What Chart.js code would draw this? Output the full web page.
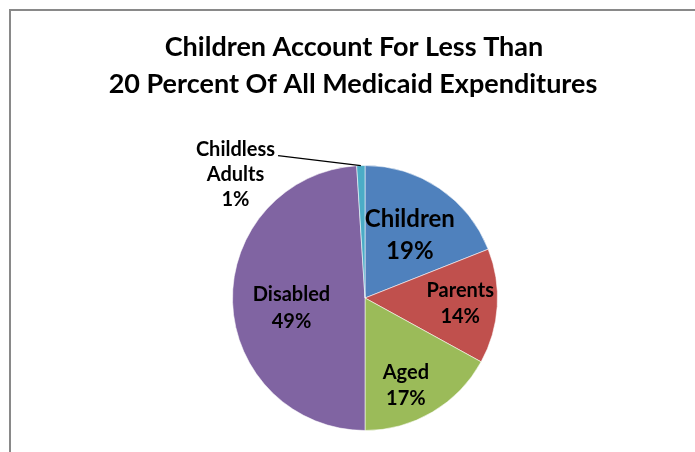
<!DOCTYPE html>
<html>
<head>
<meta charset="utf-8">
<title>Medicaid Expenditures</title>
<script src="https://cdn.jsdelivr.net/npm/chart.js@4.4.1/dist/chart.umd.min.js"></script>
<style>
  html, body { margin: 0; padding: 0; background: #fff; }
  #wrap { width: 695px; height: 452px; }
</style>
</head>
<body>
<div id="wrap"><canvas id="medicaid-pie" width="695" height="452"></canvas></div>
<script>
// share of Medicaid spending by eligibility group
const groups = ['Children', 'Parents', 'Aged', 'Disabled', 'Childless Adults'];
const shares = [19, 14, 17, 49, 1];
const sliceColors = ['#4F81BD', '#C0504D', '#9BBB59', '#8064A2', '#4BACC6'];
const titleLines = ['Children Account For Less Than', '20 Percent Of All Medicaid Expenditures'];

const FONT = 'Lato, "Open Sans", sans-serif';

// where each label sits: fraction of radius, angle nudge (deg), font size, outside?
const labelPlace = [
  { r: 0.58, shift: 1.5, size: 24, lh: 32, lines: ['Children'] },
  { r: 0.72, shift: 0, size: 20, lh: 26, lines: ['Parents'] },
  { r: 0.73, shift: 5.6, size: 20, lh: 26, lines: ['Aged'] },
  { r: 0.56, shift: -6, size: 20, lh: 27, lines: ['Disabled'] },
  { r: 1.35, shift: -44.6, size: 20, lh: 25, lines: ['Childless', 'Adults'], outside: true }
];

// grey frame, title
const framePlugin = {
  id: 'frame',
  beforeDraw(chart) {
    const ctx = chart.ctx;
    ctx.save();
    ctx.strokeStyle = '#898989';
    ctx.lineWidth = 2;
    ctx.strokeRect(10, 10, 800, 800);
    ctx.fillStyle = '#000';
    ctx.font = 'bold 27px ' + FONT;
    ctx.textAlign = 'center';
    ctx.textBaseline = 'middle';
    ctx.fillText(titleLines[0], 354, 47);
    ctx.fillText(titleLines[1], 353, 84);
    ctx.restore();
  }
};

// category name + percent on each slice
const sliceLabels = {
  id: 'sliceLabels',
  afterDatasetsDraw(chart) {
    const ctx = chart.ctx;
    const meta = chart.getDatasetMeta(0);
    const total = shares.reduce((a, b) => a + b, 0);
    ctx.save();
    ctx.fillStyle = '#000';
    ctx.textAlign = 'center';
    ctx.textBaseline = 'middle';
    meta.data.forEach((arc, i) => {
      const p = labelPlace[i];
      const { x, y, startAngle, endAngle, outerRadius } = arc.getProps(['x', 'y', 'startAngle', 'endAngle', 'outerRadius'], true);
      const mid = (startAngle + endAngle) / 2;
      const a = mid + p.shift * Math.PI / 180;
      const cx = x + Math.cos(a) * outerRadius * p.r;
      const cy = y + Math.sin(a) * outerRadius * p.r;
      const pct = Math.round(shares[i] / total * 100) + '%';
      const lines = p.lines.concat([pct]);
      ctx.font = 'bold ' + p.size + 'px ' + FONT;
      const top = cy - (lines.length - 1) * p.lh / 2;
      lines.forEach((t, k) => ctx.fillText(t, cx, top + k * p.lh));

      if (p.outside) {
        // leader line from the first text line to the slice edge
        const w = ctx.measureText(lines[0]).width;
        ctx.strokeStyle = '#000';
        ctx.lineWidth = 1.3;
        ctx.beginPath();
        ctx.moveTo(cx + w / 2 + 3, top + 6);
        ctx.lineTo(x + Math.cos(mid) * outerRadius, y + Math.sin(mid) * outerRadius);
        ctx.stroke();
      }
    });
    ctx.restore();
  }
};

new Chart(document.getElementById('medicaid-pie'), {
  type: 'pie',
  data: {
    labels: groups,
    datasets: [{
      data: shares,
      backgroundColor: sliceColors,
      borderColor: 'rgba(255,255,255,0.55)',
      borderWidth: 1
    }]
  },
  options: {
    responsive: false,
    animation: false,
    layout: { padding: { top: 165, bottom: 21, left: 200, right: 165 } },
    plugins: {
      legend: { display: false },
      title: { display: false },
      tooltip: { enabled: false }
    }
  },
  plugins: [framePlugin, sliceLabels]
});
</script>
</body>
</html>
